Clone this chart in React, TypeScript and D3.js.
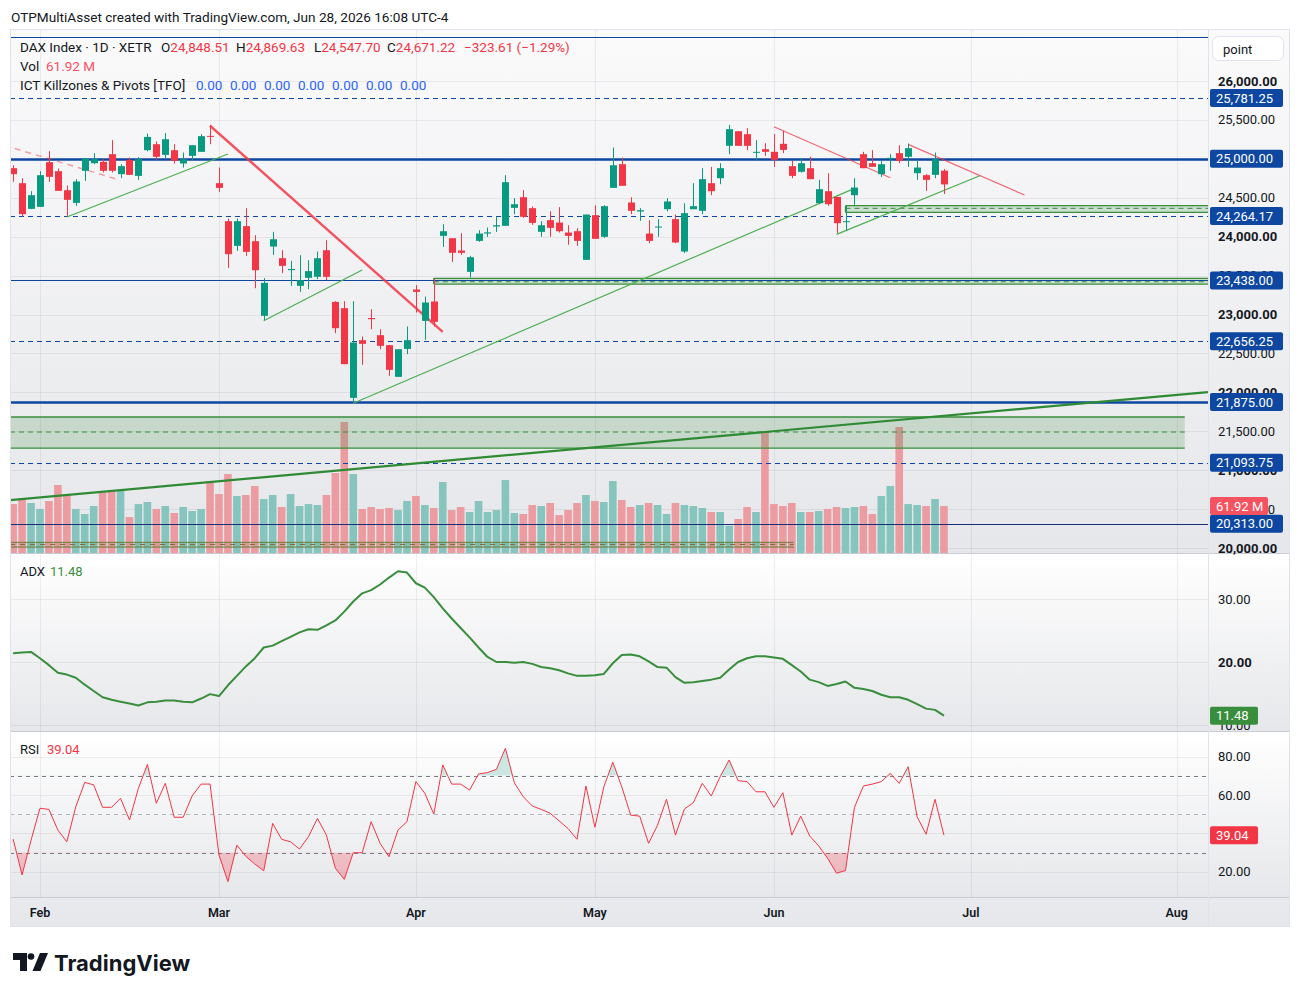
import * as d3 from "d3";

// DAX Index, daily bars from 2026-01-28 to 2026-06-26 (XETR)
const firstDay = "2026-01-28";
const holidays = ["2026-04-03", "2026-04-06", "2026-05-01"];
const calendarLength = 136;

const opens = [24880, 24687, 24357, 24383, 24957, 24841, 24597, 24434, 24846, 24944,
  24961, 25060, 24803, 24987, 24781, 25111, 25188, 25051, 25111, 24940,
  25038, 25090, 25295, 24687, 24199, 23882, 24135, 23942, 22983, 23873,
  23723, 23570, 23368, 23471, 23484, 23826, 23162, 23081, 21929, 22670,
  22955, 22734, 22606, 22199, 22558, 23321, 22918, 23167, 24010, 23980,
  23822, 23548, 23946, 24040, 24130, 24139, 24370, 24507, 24366, 24062,
  24212, 24182, 24053, 24070, 23702, 24276, 23998, 24627, 24931, 24439,
  24323, 24040, 24122, 24353, 24225, 23809, 24353, 24332, 24687, 24751,
  25167, 25355, 25317, 25081, 25124, 25090, 25193, 24906, 24833, 24880,
  24430, 24584, 24511, 24190, 24533, 25060, 24944, 24803, 25000, 25073,
  25026, 24816, 24790, 24794, 24848.51];

const highs = [24918, 24751, 24584, 24841, 25098, 24876, 24657, 24739, 25010, 25073,
  24996, 25240, 24931, 25017, 25021, 25325, 25222, 25330, 25188, 25081,
  25175, 25317, 25437, 24888, 24233, 24233, 24366, 24019, 23467, 24062,
  23826, 23689, 23762, 23698, 23809, 23955, 23171, 23171, 23171, 22717,
  23068, 22811, 22610, 22554, 22846, 23377, 23231, 23465, 24160, 23980,
  24045, 23753, 24083, 24117, 24259, 24790, 24494, 24597, 24387, 24199,
  24327, 24379, 24147, 24109, 24284, 24404, 24404, 25145, 25017, 24507,
  24366, 24212, 24225, 24494, 24284, 24430, 24687, 24880, 24897, 24944,
  25437, 25355, 25394, 25240, 25201, 25317, 25360, 24974, 25004, 25026,
  24730, 24815, 24511, 24396, 24751, 25090, 25111, 24974, 25060, 25175,
  25197, 24987, 24803, 25081, 24869.63];

const lows = [24704, 24259, 24353, 24383, 24704, 24589, 24267, 24396, 24717, 24931,
  24824, 24824, 24751, 24794, 24730, 25098, 24987, 25004, 24940, 24888,
  24983, 25090, 25188, 24576, 23599, 23818, 23753, 23338, 22931, 23766,
  23531, 23368, 23291, 23325, 23454, 23441, 22760, 22362, 21869, 22353,
  22811, 22554, 22212, 22199, 22490, 23025, 22674, 22846, 23869, 23676,
  23766, 23475, 23933, 23998, 24062, 24139, 24289, 24242, 24152, 23998,
  23998, 24053, 23895, 23882, 23702, 23972, 23985, 24627, 24653, 24289,
  24203, 23916, 23998, 24327, 23916, 23788, 24353, 24289, 24533, 24674,
  25060, 25167, 25111, 24974, 25038, 24897, 25073, 24751, 24824, 24739,
  24430, 24396, 24045, 24075, 24409, 24880, 24897, 24768, 24846, 24944,
  24897, 24730, 24589, 24751, 24547.70];

const closes = [24803, 24289, 24533, 24790, 24769, 24589, 24473, 24709, 25004, 24996,
  24846, 24846, 24906, 24794, 24995, 25282, 25026, 25252, 24974, 24995,
  25175, 25291, 25282, 24627, 23775, 24199, 23805, 23569, 23407, 23967,
  23625, 23585, 23441, 23557, 23723, 23484, 22824, 22362, 22640, 22623,
  22940, 22597, 22289, 22554, 22670, 23291, 23154, 22906, 24070, 23792,
  23792, 23736, 24040, 24055, 24147, 24700, 24417, 24255, 24177, 24147,
  24113, 24070, 24010, 23946, 24284, 23972, 24392, 24918, 24653, 24332,
  24340, 23946, 24130, 24452, 23925, 24302, 24392, 24739, 24584, 24880,
  25381, 25167, 25167, 25090, 25090, 24987, 25115, 24781, 24944, 24739,
  24610, 24417, 24173, 24199, 24631, 24880, 24897, 24931, 25013, 24974,
  25137, 24888, 24730, 24994.83, 24671.22];

// volume in millions
const volumes = [64.5, 72.1, 65.9, 58.0, 68.5, 89.6, 77.3, 58.0, 51.4, 61.9,
  81.7, 83.0, 83.0, 47.4, 64.5, 67.2, 58.0, 61.9, 52.7, 60.6,
  55.3, 58.0, 94.8, 77.7, 104.1, 75.1, 76.4, 88.2, 71.1, 76.4,
  60.6, 77.7, 61.9, 64.5, 63.2, 76.4, 105.4, 172.5, 104.1, 58.0,
  60.6, 58.0, 59.3, 56.6, 68.5, 75.1, 63.2, 59.3, 93.5, 56.6,
  60.6, 54.0, 68.5, 54.0, 56.6, 96.1, 52.7, 51.4, 63.2, 61.9,
  65.9, 50.0, 56.6, 65.9, 76.4, 68.5, 67.2, 94.8, 69.8, 60.6,
  63.2, 65.9, 63.2, 51.4, 65.9, 63.2, 61.9, 59.3, 54.0, 54.0,
  36.0, 44.8, 60.6, 54.0, 160.7, 64.5, 61.9, 65.9, 54.0, 54.0,
  55.3, 58.0, 60.6, 59.3, 60.6, 61.9, 51.4, 75.1, 88.2, 166.0,
  64.5, 63.2, 61.9, 71.1, 61.92];

const adxValues = [21.4, 21.5, 21.6, 20.6, 19.5, 18.3, 18.0, 17.5, 16.4, 15.4,
  14.4, 14.0, 13.7, 13.4, 13.1, 13.6, 13.7, 13.9, 13.9, 13.7,
  13.6, 14.2, 14.9, 14.6, 16.3, 17.8, 19.3, 20.6, 22.3, 22.6,
  23.3, 24.0, 24.7, 25.2, 25.1, 25.8, 26.6, 28.0, 29.6, 30.9,
  31.4, 32.3, 33.4, 34.4, 34.2, 32.5, 31.8, 30.3, 28.5, 26.9,
  25.4, 23.9, 22.3, 20.8, 20.0, 20.0, 19.9, 20.0, 19.7, 19.2,
  19.0, 18.7, 18.2, 17.8, 17.8, 17.9, 18.1, 19.8, 21.1, 21.2,
  20.9, 20.1, 19.2, 19.1, 17.6, 16.7, 16.8, 17.0, 17.2, 17.5,
  18.8, 20.0, 20.6, 20.9, 20.9, 20.7, 20.5, 19.5, 18.5, 17.2,
  16.8, 16.2, 16.5, 16.9, 15.9, 15.7, 15.4, 14.8, 14.4, 14.4,
  14.0, 13.3, 12.6, 12.4, 11.48];

const rsiValues = [37.0, 18.3, 36.4, 53.1, 52.5, 41.7, 35.6, 53.9, 66.6, 65.3,
  53.6, 53.6, 58.3, 47.0, 63.5, 76.0, 55.7, 66.1, 48.4, 48.4,
  59.5, 65.7, 65.7, 28.7, 14.8, 33.9, 28.0, 24.0, 20.5, 45.2,
  36.9, 35.6, 31.8, 38.3, 47.8, 39.1, 21.8, 16.0, 29.9, 29.9,
  46.1, 34.8, 27.8, 41.7, 46.1, 67.0, 60.9, 50.1, 75.7, 65.7,
  65.7, 62.6, 71.0, 71.7, 73.4, 84.4, 66.4, 59.1, 54.3, 52.5,
  50.5, 46.5, 42.5, 36.9, 64.7, 43.2, 64.3, 77.1, 64.3, 49.5,
  49.0, 34.8, 44.3, 57.8, 39.1, 52.7, 56.0, 66.1, 59.5, 69.6,
  78.3, 67.5, 67.0, 61.7, 61.7, 53.6, 61.2, 39.1, 49.0, 38.6,
  33.5, 27.0, 19.2, 20.6, 53.6, 64.7, 65.7, 67.0, 71.3, 66.1,
  74.8, 48.7, 39.5, 57.8, 39.04];

// horizontal pivot levels
const levelPrices = [26562.5, 25781.25, 25000, 24264.17, 23438, 22656.25, 21875, 21093.75, 20313];
const heavyLevels = [25000, 21875];
const dashedLevels = [25781.25, 24264.17, 22656.25, 21093.75];
const labelledLevels = [25781.25, 25000, 24264.17, 23438, 22656.25, 21875, 21093.75, 20313];

// trend lines as [barIndex, price, barIndex, price]
const redTrendThick = [[22, 25425, 48, 22778]];
const redTrendThin = [[85, 25412, 98, 24757], [100, 25186, 113, 24535]];
const redTrendDashed = [[-1, 25173, 11.9, 24728]];
const greenTrendThin = [[6, 24252, 24, 25062], [28, 22920, 39, 23571], [38, 21859, 94, 24620], [92, 24030, 108, 24783]];
const greenTrendThick = [[-0.35, 20616, 133.5, 22004]];

// demand zones: [fromBar, toBar, top, bottom, mid]
const zones = [
  [-0.35, 130.9, 21683, 21284, 21490],
  [47, 133.5, 23465, 23391, 23421],
  [93, 133.5, 24398, 24313, 24364],
];
const oldZone = [-0.35, 87.2, 20073, 20012, 20045];

// 25,000 sits exactly under its level tag, so it is left out of the tick list
const priceTicks = d3.range(20000, 26001, 500).filter((p) => p !== 25000);
const gridTicks = d3.range(20000, 26001, 500);
const adxTicks = [10, 20, 30];
const rsiTicks = [20, 40, 60, 80];
const rsiBands = [70, 50, 30];
const pivotReadouts = [0, 0, 0, 0, 0, 0, 0];

const UP = "#089981";
const DOWN = "#f23645";
const LEVEL = "#0d47a1";
const ZONE = "#388e3c";
const FONT = "Roboto, 'Noto Sans', sans-serif";

const L = 10, PR = 1208, R = 1290;
const MAIN = { top: 30, bottom: 553 };
const ADXP = { top: 554, bottom: 731 };
const RSIP = { top: 732, bottom: 897 };
const AXIS_BOTTOM = 927;

function tradingDays(start: string, n: number) {
  const parse = d3.utcParse("%Y-%m-%d");
  const fmt = d3.utcFormat("%Y-%m-%d");
  const out: Date[] = [];
  let d = parse(start) as Date;
  while (out.length < n) {
    const wd = d.getUTCDay();
    if (wd !== 0 && wd !== 6 && !holidays.includes(fmt(d))) out.push(d);
    d = d3.utcDay.offset(d, 1);
  }
  return out;
}

const days = tradingDays(firstDay, calendarLength);
const monthTicks = days
  .map((d, i) => ({ d, i }))
  .filter(({ d, i }) => i > 0 && d.getUTCMonth() !== days[i - 1].getUTCMonth());

const x = d3.scaleLinear().domain([-0.35, 133.5]).range([L, PR]);
const y = d3.scaleLinear().domain([20000, 26000]).range([548, 81]);
const yVol = d3.scaleLinear().domain([0, 61.92]).range([MAIN.bottom, 506]);
const yAdx = d3.scaleLinear().domain([10, 30]).range([725, 599]);
const yRsi = d3.scaleLinear().domain([20, 80]).range([871.7, 756.7]);

const fmt2 = d3.format(",.2f");
const fmtPlain = d3.format(".2f");

function PriceBox({ yy, text, fill, w = 73 }: { yy: number; text: string; fill: string; w?: number }) {
  return (
    <g>
      <rect x={1210} y={yy - 9} width={w} height={18} rx={2} fill={fill} />
      <text x={1216} y={yy} dominantBaseline="central" fontSize={13} fill="#fff" fontFamily={FONT}>
        {text}
      </text>
    </g>
  );
}

function Pane({ id, top, bottom, from, to }: { id: string; top: number; bottom: number; from: string; to: string }) {
  return (
    <g>
      <defs>
        <linearGradient id={id} x1="0" x2="0" y1="0" y2="1">
          <stop offset="0" stopColor={from} />
          <stop offset="1" stopColor={to} />
        </linearGradient>
      </defs>
      <rect x={L} y={top} width={R - L} height={bottom - top} fill={`url(#${id})`} />
    </g>
  );
}

export default function App() {
  const adxLine = d3.line<number>().x((_, i) => x(i)).y((v) => yAdx(v))(adxValues) || "";
  const rsiLine = d3.line<number>().x((_, i) => x(i)).y((v) => yRsi(v))(rsiValues) || "";
  const rsiHigh = d3.area<number>().x((_, i) => x(i)).y0(yRsi(70)).y1((v) => yRsi(v))(rsiValues) || "";
  const rsiLow = d3.area<number>().x((_, i) => x(i)).y0(yRsi(30)).y1((v) => yRsi(v))(rsiValues) || "";

  const seg = (s: number[]) => ({ x1: x(s[0]), y1: y(s[1]), x2: x(s[2]), y2: y(s[3]) });
  const last = opens.length - 1;
  const change = closes[last - 1] - closes[last];

  return (
    <div style={{ position: "fixed", left: 0, top: 0, width: 1300, height: 996, background: "#fff" }}>
      <svg width={1300} height={996} style={{ display: "block" }} fontFamily={FONT}>
        <defs>
          <clipPath id="mainClip"><rect x={L} y={MAIN.top} width={PR - L} height={MAIN.bottom - MAIN.top} /></clipPath>
          <clipPath id="adxClip"><rect x={L} y={ADXP.top} width={PR - L} height={ADXP.bottom - ADXP.top} /></clipPath>
          <clipPath id="rsiClip"><rect x={L} y={RSIP.top} width={PR - L} height={RSIP.bottom - RSIP.top} /></clipPath>
          <clipPath id="rsiAbove"><rect x={L} y={RSIP.top} width={PR - L} height={yRsi(70) - RSIP.top} /></clipPath>
          <clipPath id="rsiBelow"><rect x={L} y={yRsi(30)} width={PR - L} height={RSIP.bottom - yRsi(30)} /></clipPath>
          <linearGradient id="rsiUpFill" x1="0" x2="0" y1="0" y2="1">
            <stop offset="0" stopColor="#089981" stopOpacity={0.22} />
            <stop offset="1" stopColor="#089981" stopOpacity={0.04} />
          </linearGradient>
          <linearGradient id="rsiDnFill" x1="0" x2="0" y1="0" y2="1">
            <stop offset="0" stopColor="#f23645" stopOpacity={0.04} />
            <stop offset="1" stopColor="#f23645" stopOpacity={0.3} />
          </linearGradient>
        </defs>

        <text x={11} y={22} fontSize={13.6} fill="#131722">
          OTPMultiAsset created with TradingView.com, Jun 28, 2026 16:08 UTC-4
        </text>

        {/* pane backgrounds */}
        <Pane id="gMain" top={MAIN.top} bottom={MAIN.bottom} from="#fafafb" to="#e6e7ea" />
        <Pane id="gAdx" top={ADXP.top} bottom={ADXP.bottom} from="#ffffff" to="#e6e7ea" />
        <Pane id="gRsi" top={RSIP.top} bottom={RSIP.bottom} from="#ffffff" to="#e6e7ea" />
        <Pane id="gAxis" top={RSIP.bottom} bottom={AXIS_BOTTOM} from="#e9eaed" to="#e6e7ea" />

        {/* grid */}
        <g stroke="#2a2e39" strokeOpacity={0.07}>
          {gridTicks.map((p) => (
            <line key={p} x1={L} x2={PR} y1={Math.round(y(p)) + 0.5} y2={Math.round(y(p)) + 0.5} />
          ))}
          {adxTicks.map((v) => (
            <line key={"a" + v} x1={L} x2={PR} y1={Math.round(yAdx(v)) + 0.5} y2={Math.round(yAdx(v)) + 0.5} />
          ))}
          {rsiTicks.map((v) => (
            <line key={"r" + v} x1={L} x2={PR} y1={Math.round(yRsi(v)) + 0.5} y2={Math.round(yRsi(v)) + 0.5} />
          ))}
          {monthTicks.map(({ i }) => (
            <line key={"m" + i} x1={Math.round(x(i)) + 0.5} x2={Math.round(x(i)) + 0.5} y1={MAIN.top} y2={RSIP.bottom} />
          ))}
        </g>

        {/* main pane */}
        <g clipPath="url(#mainClip)">
          {volumes.map((v, i) => (
            <rect
              key={"v" + i}
              x={x(i) - 3.8}
              y={yVol(v)}
              width={7.6}
              height={MAIN.bottom - yVol(v)}
              fill={closes[i] >= opens[i] ? "#86c5be" : "#ec9ca1"}
            />
          ))}

          {/* older zone near the bottom */}
          <g>
            <rect x={x(oldZone[0])} y={y(oldZone[2])} width={x(oldZone[1]) - x(oldZone[0])} height={y(oldZone[3]) - y(oldZone[2])} fill={ZONE} fillOpacity={0.12} />
            <line x1={x(oldZone[0])} x2={x(oldZone[1])} y1={y(oldZone[2])} y2={y(oldZone[2])} stroke="#6f7b38" strokeWidth={1} />
            <line x1={x(oldZone[0])} x2={x(oldZone[1])} y1={y(oldZone[4])} y2={y(oldZone[4])} stroke="#8d6b3a" strokeWidth={1} strokeDasharray="5 5" />
            <line x1={x(oldZone[0])} x2={x(oldZone[1])} y1={y(oldZone[3])} y2={y(oldZone[3])} stroke="#6f7b38" strokeWidth={1} />
          </g>

          {zones.map((z, k) => (
            <g key={"z" + k}>
              <rect x={x(z[0])} y={y(z[2])} width={x(z[1]) - x(z[0])} height={y(z[3]) - y(z[2])} fill={ZONE} fillOpacity={0.2} />
              <line x1={x(z[0])} x2={x(z[1])} y1={y(z[2])} y2={y(z[2])} stroke={ZONE} strokeWidth={1.3} />
              <line x1={x(z[0])} x2={x(z[1])} y1={y(z[3])} y2={y(z[3])} stroke={ZONE} strokeWidth={1.3} />
              <line x1={x(z[0])} x2={x(z[0])} y1={y(z[2])} y2={y(z[3])} stroke={ZONE} strokeWidth={1.3} />
              <line x1={x(z[0])} x2={x(z[1])} y1={y(z[4])} y2={y(z[4])} stroke={ZONE} strokeWidth={1} strokeDasharray="5 4" />
            </g>
          ))}

          {levelPrices.map((p) => {
            const yy = Math.round(y(p)) + 0.5;
            return (
              <line
                key={"l" + p}
                x1={L}
                x2={PR}
                y1={yy}
                y2={yy}
                stroke={p === 20313 ? "#1a2f7a" : LEVEL}
                strokeWidth={heavyLevels.includes(p) ? 2.4 : 1.2}
                strokeDasharray={dashedLevels.includes(p) ? "5 4" : undefined}
              />
            );
          })}

          {greenTrendThick.map((s, k) => (
            <line key={"gt" + k} {...seg(s)} stroke="#2e8b34" strokeWidth={2.2} />
          ))}
          {greenTrendThin.map((s, k) => (
            <line key={"g" + k} {...seg(s)} stroke="#4caf50" strokeWidth={1.2} />
          ))}
          {redTrendThick.map((s, k) => (
            <line key={"rt" + k} {...seg(s)} stroke="#f23645" strokeOpacity={0.85} strokeWidth={2.4} />
          ))}
          {redTrendThin.map((s, k) => (
            <line key={"r" + k} {...seg(s)} stroke="#f23645" strokeOpacity={0.75} strokeWidth={1.2} />
          ))}
          {redTrendDashed.map((s, k) => (
            <line key={"rd" + k} {...seg(s)} stroke="#f23645" strokeOpacity={0.45} strokeWidth={1.5} strokeDasharray="6 5" />
          ))}

          {opens.map((o, i) => {
            const c = closes[i];
            const col = c >= o ? UP : DOWN;
            const cx = Math.round(x(i));
            const top = y(Math.max(o, c));
            const bot = y(Math.min(o, c));
            return (
              <g key={"c" + i}>
                <line x1={cx + 0.5} x2={cx + 0.5} y1={y(highs[i])} y2={y(lows[i])} stroke={col} strokeWidth={1} />
                <rect x={cx - 3} y={top} width={7} height={Math.max(1, bot - top)} fill={col} />
              </g>
            );
          })}
        </g>

        {/* ADX pane */}
        <g clipPath="url(#adxClip)">
          <path d={adxLine} fill="none" stroke="#388e3c" strokeWidth={2} strokeLinejoin="round" />
        </g>

        {/* RSI pane */}
        <g>
          {rsiBands.map((v) => (
            <line
              key={"b" + v}
              x1={L}
              x2={PR}
              y1={Math.round(yRsi(v)) + 0.5}
              y2={Math.round(yRsi(v)) + 0.5}
              stroke="#787b86"
              strokeOpacity={v === 50 ? 0.5 : 1}
              strokeDasharray="4 4"
            />
          ))}
          <g clipPath="url(#rsiClip)">
            <path d={rsiHigh} fill="url(#rsiUpFill)" clipPath="url(#rsiAbove)" />
            <path d={rsiLow} fill="url(#rsiDnFill)" clipPath="url(#rsiBelow)" />
            <path d={rsiLine} fill="none" stroke="#f23645" strokeWidth={1} />
          </g>
        </g>

        {/* separators and frame */}
        <g stroke="#c9ccd4" strokeWidth={1}>
          <line x1={L} x2={R} y1={MAIN.bottom + 0.5} y2={MAIN.bottom + 0.5} />
          <line x1={L} x2={R} y1={ADXP.bottom + 0.5} y2={ADXP.bottom + 0.5} />
          <line x1={L} x2={R} y1={RSIP.bottom + 0.5} y2={RSIP.bottom + 0.5} />
        </g>
        <line x1={PR + 0.5} x2={PR + 0.5} y1={MAIN.top} y2={AXIS_BOTTOM} stroke="#e0e3eb" />
        <rect x={L + 0.5} y={MAIN.top - 0.5} width={R - L - 1} height={AXIS_BOTTOM - MAIN.top} fill="none" stroke="#e0e3eb" />

        {/* price axis: tick labels sit under the level boxes, as on the live chart */}
        <g fontSize={13} fill="#131722">
          {priceTicks.map((p) => (
            <text key={"t" + p} x={1218} y={y(p)} dominantBaseline="central" fontWeight={p % 1000 === 0 ? 700 : 400}>
              {fmt2(p)}
            </text>
          ))}
          {adxTicks.map((v) => (
            <text key={"at" + v} x={1218} y={yAdx(v)} dominantBaseline="central" fontWeight={v === 20 ? 700 : 400}>
              {fmtPlain(v)}
            </text>
          ))}
          {rsiTicks.map((v) => (
            <text key={"rt" + v} x={1218} y={yRsi(v)} dominantBaseline="central">
              {fmtPlain(v)}
            </text>
          ))}
        </g>
        {labelledLevels.map((p) => (
          <PriceBox key={"pb" + p} yy={y(p)} text={fmt2(p)} fill={LEVEL} />
        ))}
        <PriceBox yy={yVol(volumes[last])} text={`${fmtPlain(volumes[last])} M`} fill="#f7525f" w={58} />
        <PriceBox yy={yAdx(adxValues[last])} text={fmtPlain(adxValues[last])} fill="#388e3c" w={48} />
        <PriceBox yy={yRsi(rsiValues[last])} text={fmtPlain(rsiValues[last])} fill="#f23645" w={48} />

        <rect x={1212.5} y={36.5} width={71} height={24} rx={6} fill="#fff" stroke="#e0e3eb" />
        <text x={1223} y={49} dominantBaseline="central" fontSize={13} fill="#131722">point</text>

        {/* time axis */}
        {monthTicks.map(({ d, i }) => (
          <text key={"mt" + i} x={x(i)} y={912} textAnchor="middle" dominantBaseline="central" fontSize={12.5} fontWeight={600} fill="#131722">
            {d3.utcFormat("%b")(d)}
          </text>
        ))}

        {/* legends */}
        <g fontSize={13.5} fill="#131722" style={{ whiteSpace: "pre" }}>
          <text x={20} y={51.5}>
            DAX Index · 1D · XETR
            <tspan x={161}>O</tspan><tspan fill={DOWN}>{fmt2(opens[last])}</tspan>
            <tspan x={236}>H</tspan><tspan fill={DOWN}>{fmt2(highs[last])}</tspan>
            <tspan x={314}>L</tspan><tspan fill={DOWN}>{fmt2(lows[last])}</tspan>
            <tspan x={387}>C</tspan><tspan fill={DOWN}>{fmt2(closes[last])}</tspan>
            <tspan x={464} fill={DOWN}>
              {`−${fmt2(change)} (−${fmtPlain((change / closes[last - 1]) * 100)}%)`}
            </tspan>
          </text>
          <text x={20} y={70.5}>
            Vol<tspan x={46} fill="#f7525f">{`${fmtPlain(volumes[last])} M`}</tspan>
          </text>
          <text x={20} y={89.5}>ICT Killzones &amp; Pivots [TFO]</text>
          {pivotReadouts.map((v, k) => (
            <text key={"pv" + k} x={196 + k * 34} y={89.5} fill="#2962ff">{fmtPlain(v)}</text>
          ))}
        </g>
        <g fontSize={13} fill="#131722">
          <text x={20} y={575.5}>ADX</text>
          <text x={50} y={575.5} fill="#388e3c">{fmtPlain(adxValues[last])}</text>
          <text x={20} y={753.5}>RSI</text>
          <text x={47} y={753.5} fill={DOWN}>{fmtPlain(rsiValues[last])}</text>
        </g>

        {/* logo */}
        <g fill="#131722">
          <path d="M13 953h14v18h-7v-11h-7z" />
          <circle cx={31} cy={956.5} r={3.3} />
          <path d="M40 953h8l-7.5 18h-8z" />
          <text x={54} y={971} fontSize={22} fontWeight={700} fontFamily="Inter, Roboto, sans-serif">TradingView</text>
        </g>
      </svg>
    </div>
  );
}
